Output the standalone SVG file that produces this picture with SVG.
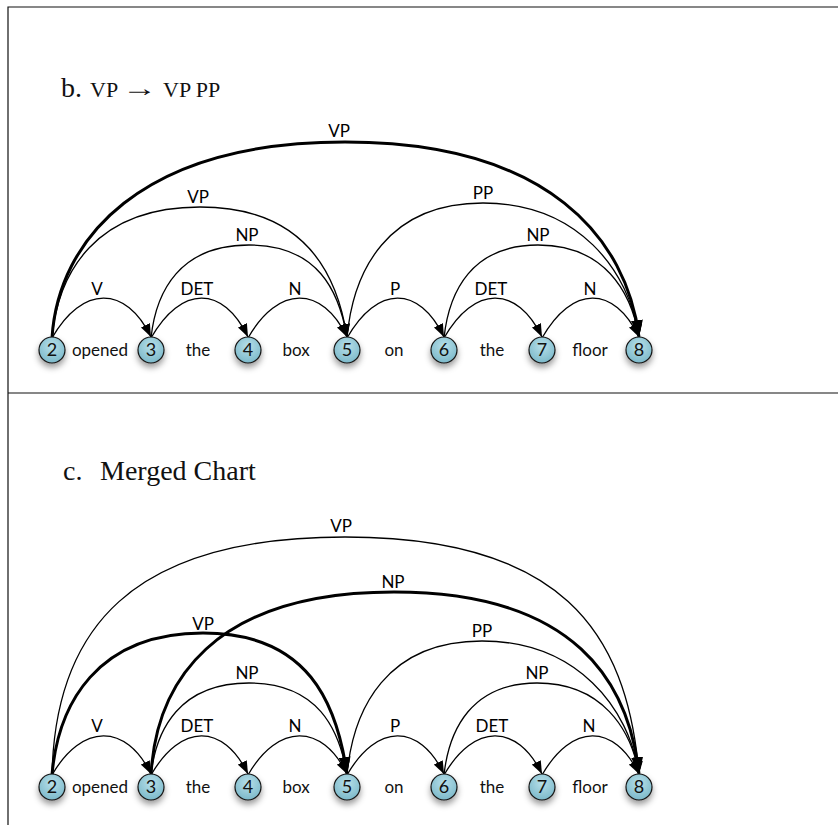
<svg xmlns="http://www.w3.org/2000/svg" width="838" height="825" viewBox="0 0 838 825">
  <style>
    .frame { stroke: #111; stroke-width: 1.2; fill: none; }
    .title { font-family: "Liberation Serif", "Times New Roman", serif; fill: #111; }
    .edge { fill: none; stroke: #000; stroke-width: 1.3; marker-end: url(#arrow); }
    .edge.bold { stroke-width: 3; marker-end: url(#arrowBold); }
    .lbl { font-family: Lato, "Open Sans", sans-serif; font-size: 17px; fill: #000; text-anchor: middle; }
    .word { font-family: Lato, "Open Sans", sans-serif; font-size: 17px; fill: #111; text-anchor: middle; }
    .node circle { fill: url(#ball); stroke: #151515; stroke-width: 1.2; filter: url(#shadow); }
    .node text { font-family: Lato, "Open Sans", sans-serif; font-size: 18px; fill: #111; text-anchor: middle; }
  </style>
  <defs>
    <radialGradient id="ball" cx="50%" cy="35%" r="65%">
      <stop offset="0" stop-color="#b7dfe9"/>
      <stop offset="1" stop-color="#7cb9ca"/>
    </radialGradient>
    <filter id="shadow" x="-60%" y="-60%" width="220%" height="240%">
      <feDropShadow dx="0" dy="4" stdDeviation="3" flood-color="#000" flood-opacity="0.4"/>
    </filter>
    <marker id="arrow" markerUnits="userSpaceOnUse" viewBox="0 0 13 10" markerWidth="13" markerHeight="10" refX="13" refY="5" orient="auto">
      <path d="M0,0 L13,5 L0,10 Z" fill="#000"/>
    </marker>
    <marker id="arrowBold" markerUnits="userSpaceOnUse" viewBox="0 0 17 12" markerWidth="17" markerHeight="12" refX="17" refY="6" orient="auto">
      <path d="M0,0 L17,6 L0,12 Z" fill="#000"/>
    </marker>
  </defs>

  <!-- frame lines -->
  <g id="frame">
    <path class="frame" d="M8,825 V7 H838"/>
    <path class="frame" d="M8,393 H838"/>
  </g>

  <!-- panel titles -->
  <g id="titles">
    <text class="title" x="61" y="97" font-size="28">b.</text>
    <text class="title" x="90" y="97" font-size="22">VP</text>
    <text class="title" x="122" y="96" font-size="24" textLength="35" lengthAdjust="spacingAndGlyphs">→</text>
    <text class="title" x="163" y="97" font-size="22">VP PP</text>
    <text class="title" x="63" y="480" font-size="28">c.</text>
    <text class="title" x="100" y="480" font-size="28">Merged Chart</text>
  </g>

  <!-- connectors: panel b -->
  <g id="edges-b">
    <path class="edge" d="M52,338 C82,285 126,285 151,337"/>
    <path class="edge" d="M151,338 C181,285 223,285 248,337"/>
    <path class="edge" d="M248,338 C278,285 322,285 347,337"/>
    <path class="edge" d="M347,338 C377,285 419,285 444,337"/>
    <path class="edge" d="M444,338 C474,285 517,285 542,337"/>
    <path class="edge" d="M542,338 C572,285 614,285 639,337"/>
    <path class="edge" d="M151,338 C156,291 180,245 249,245 S339,291 347,337"/>
    <path class="edge" d="M444,338 C449,291 472,245 538,245 S631,291 639,337"/>
    <path class="edge" d="M52,338 C58,272 96,207 200,207 S337,272 347,337"/>
    <path class="edge" d="M347,338 C353,270 388,203 483,203 S629,270 639,337"/>
    <path class="edge bold" d="M52,338 C58,240 140,142 345,142 S627,240 639,337"/>
  </g>
  <g id="labels-b">
    <text class="lbl" x="97" y="295">V</text>
    <text class="lbl" x="197" y="295">DET</text>
    <text class="lbl" x="295" y="295">N</text>
    <text class="lbl" x="395" y="295">P</text>
    <text class="lbl" x="491" y="295">DET</text>
    <text class="lbl" x="590" y="295">N</text>
    <text class="lbl" x="247" y="241">NP</text>
    <text class="lbl" x="538" y="241">NP</text>
    <text class="lbl" x="198" y="203">VP</text>
    <text class="lbl" x="483" y="199">PP</text>
    <text class="lbl" x="339" y="137">VP</text>
  </g>

  <!-- nodes: panel b -->
  <g id="b-n2" class="node"><circle cx="52" cy="350" r="13"/><text x="52" y="356">2</text></g>
  <g id="b-n3" class="node"><circle cx="151" cy="350" r="13"/><text x="151" y="356">3</text></g>
  <g id="b-n4" class="node"><circle cx="248" cy="350" r="13"/><text x="248" y="356">4</text></g>
  <g id="b-n5" class="node"><circle cx="347" cy="350" r="13"/><text x="347" y="356">5</text></g>
  <g id="b-n6" class="node"><circle cx="444" cy="350" r="13"/><text x="444" y="356">6</text></g>
  <g id="b-n7" class="node"><circle cx="542" cy="350" r="13"/><text x="542" y="356">7</text></g>
  <g id="b-n8" class="node"><circle cx="639" cy="350" r="13"/><text x="639" y="356">8</text></g>
  <g id="words-b">
    <text class="word" x="100" y="356">opened</text>
    <text class="word" x="198" y="356">the</text>
    <text class="word" x="296" y="356">box</text>
    <text class="word" x="394" y="356">on</text>
    <text class="word" x="492" y="356">the</text>
    <text class="word" x="590" y="356">floor</text>
  </g>

  <!-- connectors: panel c -->
  <g id="edges-c">
    <path class="edge" d="M52,775 C82,723 126,723 151,774"/>
    <path class="edge" d="M151,775 C181,723 223,723 248,774"/>
    <path class="edge" d="M248,775 C278,723 322,723 347,774"/>
    <path class="edge" d="M347,775 C377,723 419,723 444,774"/>
    <path class="edge" d="M444,775 C474,723 517,723 542,774"/>
    <path class="edge" d="M542,775 C572,723 614,723 639,774"/>
    <path class="edge" d="M151,775 C156,729 180,683 249,683 S339,729 347,774"/>
    <path class="edge" d="M444,775 C449,729 472,683 537,683 S631,729 639,774"/>
    <path class="edge" d="M347,775 C353,708 387,641 482,641 S629,708 639,774"/>
    <path class="edge" d="M52,775 C55,630 130,537 345,537 S627,630 639,774"/>
    <path class="edge bold" d="M52,775 C58,704 97,633 203,633 S337,704 347,774"/>
    <path class="edge bold" d="M151,775 C156,683 212,592 394,592 S629,683 639,774"/>
  </g>
  <g id="labels-c">
    <text class="lbl" x="97" y="732">V</text>
    <text class="lbl" x="197" y="732">DET</text>
    <text class="lbl" x="295" y="732">N</text>
    <text class="lbl" x="395" y="732">P</text>
    <text class="lbl" x="492" y="732">DET</text>
    <text class="lbl" x="589" y="732">N</text>
    <text class="lbl" x="247" y="679">NP</text>
    <text class="lbl" x="537" y="679">NP</text>
    <text class="lbl" x="482" y="637">PP</text>
    <text class="lbl" x="203" y="630">VP</text>
    <text class="lbl" x="393" y="588">NP</text>
    <text class="lbl" x="341" y="532">VP</text>
  </g>

  <!-- nodes: panel c -->
  <g id="c-n2" class="node"><circle cx="52" cy="787" r="13"/><text x="52" y="793">2</text></g>
  <g id="c-n3" class="node"><circle cx="151" cy="787" r="13"/><text x="151" y="793">3</text></g>
  <g id="c-n4" class="node"><circle cx="248" cy="787" r="13"/><text x="248" y="793">4</text></g>
  <g id="c-n5" class="node"><circle cx="347" cy="787" r="13"/><text x="347" y="793">5</text></g>
  <g id="c-n6" class="node"><circle cx="444" cy="787" r="13"/><text x="444" y="793">6</text></g>
  <g id="c-n7" class="node"><circle cx="542" cy="787" r="13"/><text x="542" y="793">7</text></g>
  <g id="c-n8" class="node"><circle cx="639" cy="787" r="13"/><text x="639" y="793">8</text></g>
  <g id="words-c">
    <text class="word" x="100" y="793">opened</text>
    <text class="word" x="198" y="793">the</text>
    <text class="word" x="296" y="793">box</text>
    <text class="word" x="394" y="793">on</text>
    <text class="word" x="492" y="793">the</text>
    <text class="word" x="590" y="793">floor</text>
  </g>
</svg>
